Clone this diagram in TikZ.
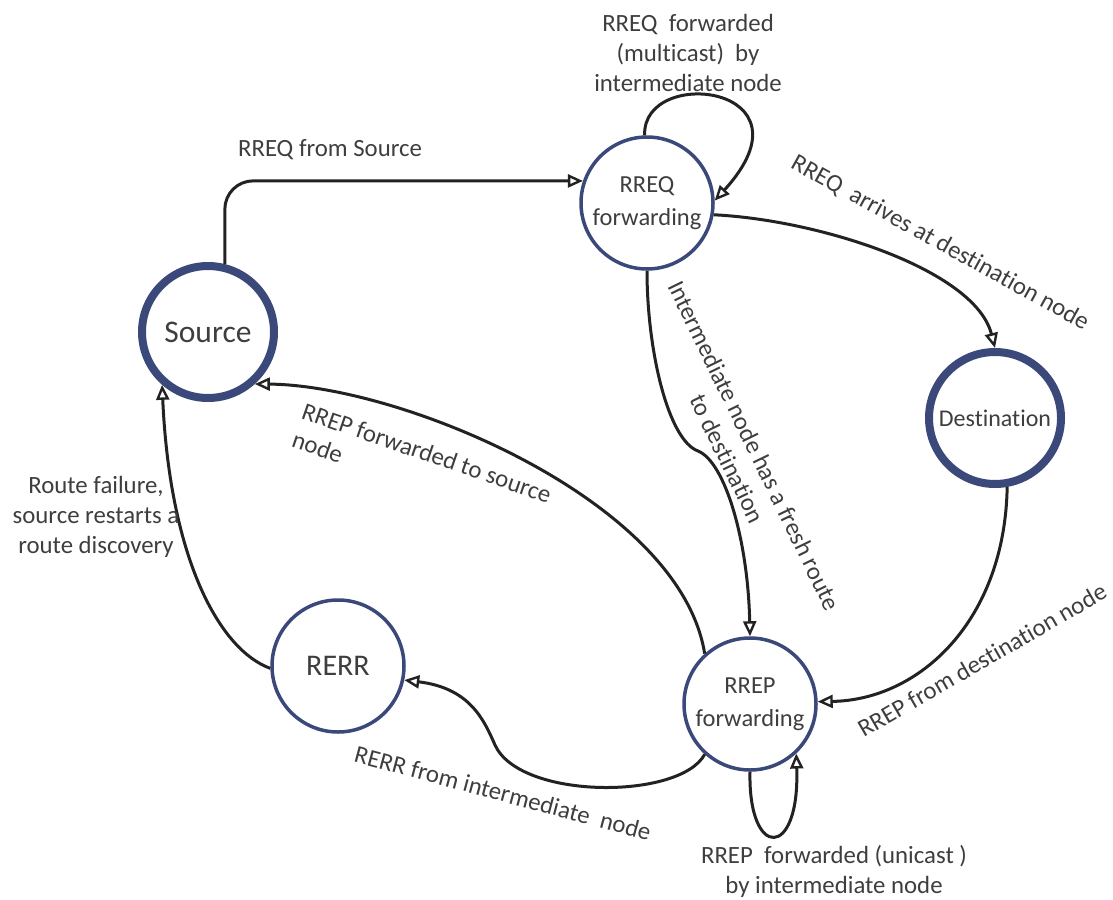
\documentclass[tikz,border=0pt]{standalone}
\usepackage{fontspec}
\setmainfont{Carlito}[Ligatures=CommonOff]
\usetikzlibrary{arrows.meta}
\definecolor{ringblue}{RGB}{58,72,122}
\definecolor{wire}{RGB}{34,34,34}
\definecolor{ink}{RGB}{62,62,62}

\begin{document}
\begin{tikzpicture}[x=1pt,y=1pt,
  state/.style={circle, draw=ringblue, fill=white, line width=3.5pt,
    minimum size=132pt, inner sep=0pt, align=center, text=ink,
    font=\fontsize{24.5}{33}\selectfont},
  bigstate/.style={state, line width=8pt},
  wire/.style={draw=wire, line width=3pt,
    -{Triangle[open, length=15pt, width=13pt, line width=2.4pt]}},
  lbl/.style={text=ink, inner sep=0pt, align=center,
    font=\fontsize{24.8}{30}\selectfont}]
\useasboundingbox (0,0) rectangle (1113,-899);

% states
\node[bigstate, font=\fontsize{31.5}{36}\selectfont] (src) at (208,-332) {Source};
\node[state] (rreq) at (647,-203) {RREQ\\forwarding};
\node[bigstate, font=\fontsize{24}{30}\selectfont] (dst) at (995,-418) {Destination};
\node[state, font=\fontsize{30}{36}\selectfont] (rerr) at (338,-666) {RERR};
\node[state] (rrep) at (750,-704) {RREP\\forwarding};

% transitions
\draw[wire, rounded corners=28pt] (src.76) |- (rreq.161);
\draw[wire] (rreq.92) .. controls (642,-65) and (820,-85) .. (rreq.2);
\draw[wire] (rreq.-10) .. controls (820,-220) and (975,-270) .. (dst.north);
\draw[wire] (rreq.south) .. controls (647,-350) and (668,-440) .. (698,-451)
  .. controls (725,-462) and (748,-540) .. (rrep.north);
\draw[wire] (dst.-80) .. controls (1005,-620) and (920,-700) .. (rrep.2);
\draw[wire] (rrep.132) .. controls (680,-500) and (400,-385) .. (src.-48);
\draw[wire] (rrep.-132) .. controls (680,-800) and (520,-800) .. (495,-745)
  .. controls (484,-720) and (470,-688) .. (rerr.-12);
\draw[wire] (rrep.-90) .. controls (748,-860) and (800,-860) .. (rrep.-47);
\draw[wire] (rerr.182) .. controls (220,-650) and (170,-560) .. (src.-131);

% transition labels
\node[lbl] (lsrc) at (330,-150) {RREQ from Source};
\node[lbl] (lmulti) at (688,-53) {RREQ\ \ forwarded\\(multicast)\ \ by\\intermediate node};
\node[lbl, rotate=-29] (larr) at (940,-243) {RREQ\ \ arrives at destination node};
\node[lbl, rotate=-64] (lfresh) at (741,-452) {Intermediate node has a fresh route\\to destination};
\node[lbl, rotate=30] (ldst) at (982,-660) {RREP from destination node};
\node[lbl, rotate=-19, align=left] (lback) at (422,-467) {RREP forwarded to source\\node};
\node[lbl, rotate=-15] (lerr) at (503,-793) {RERR from intermediate\ \ node};
\node[lbl] (luni) at (834,-871) {RREP\ \ forwarded (unicast )\\by intermediate node};
\node[lbl] (lfail) at (96,-517) {Route failure,\\source restarts a\\route discovery};
\end{tikzpicture}
\end{document}
